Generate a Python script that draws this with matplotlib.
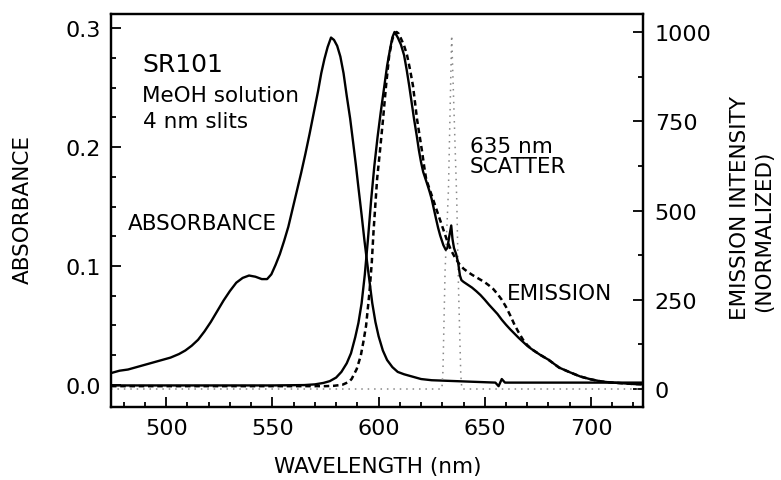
import matplotlib
matplotlib.use("Agg")
import matplotlib.pyplot as plt
from matplotlib.ticker import MultipleLocator

plt.rcParams['font.family'] = ['DejaVu Sans']

# Absorbance spectrum (left axis)
abs_wl = [474, 478, 482, 486, 490, 494, 498, 502, 506, 509, 512, 515, 518, 521, 524,
          527, 530, 533, 536, 539, 542, 545, 547.5, 549.5, 551.5, 553.5, 555.5, 557.5,
          559.5, 561.5, 563.5, 565.5, 567.5, 569.5, 571.5, 573, 574.5, 576, 577.6, 579,
          580.5, 582, 583.5, 585, 586.6, 588, 589.3, 590.5, 592, 593.3, 594.6, 595.8,
          597, 598.5, 600, 602, 604, 606.5, 609, 612, 616, 620, 625, 640, 655, 656.5,
          658, 659.5, 700, 725]
abs_val = [0.010, 0.012, 0.013, 0.015, 0.017, 0.019, 0.021, 0.023, 0.026, 0.029,
           0.033, 0.038, 0.045, 0.053, 0.062, 0.071, 0.079, 0.086, 0.090, 0.092,
           0.091, 0.089, 0.089, 0.093, 0.101, 0.110, 0.121, 0.133, 0.148, 0.163,
           0.178, 0.194, 0.211, 0.229, 0.247, 0.262, 0.274, 0.284, 0.292, 0.290,
           0.285, 0.276, 0.262, 0.243, 0.224, 0.204, 0.185, 0.166, 0.143, 0.122,
           0.103, 0.086, 0.069, 0.053, 0.041, 0.029, 0.021, 0.015, 0.011, 0.009,
           0.007, 0.005, 0.004, 0.003, 0.002, -0.001, 0.005, 0.002, 0.002, 0.002]

# Emission spectrum with 635 nm scatter (solid, right axis)
em_wl = [474, 500, 550, 565, 570, 574, 577, 580, 582.5, 585, 587, 589, 590.5, 592,
         593.5, 595, 596.5, 598, 599.5, 601, 602.5, 604, 605.5, 606.5, 607.5, 609,
         610.5, 612, 613.2, 614.4, 615.5, 616.7, 618, 619, 620, 621, 622, 623, 624,
         625, 626, 627, 628, 629, 630.5, 631.6, 632.4, 633.2, 634.2, 634.8, 635.5,
         636.5, 637.5, 638.3, 639, 640, 642, 644, 646, 648, 650, 652, 654, 656, 658,
         660, 662, 664, 666, 668, 670, 672, 676, 680, 685, 690, 695, 700, 705, 710,
         715, 720, 725]
em_val = [10, 10, 10, 11, 13, 17, 22, 32, 48, 72, 100, 145, 185, 240,
          320, 420, 530, 625, 705, 775, 840, 905, 955, 985, 1000, 985,
          965, 935, 895, 850, 805, 756, 708, 668, 635, 608, 590, 572, 553,
          532, 505, 478, 452, 430, 403, 390, 395, 425, 458, 420, 395,
          378, 352, 318, 305, 300, 292, 284, 274, 263, 250, 236, 223, 210, 194,
          180, 167, 155, 143, 132, 121, 112, 96, 82, 60, 47, 35, 27, 21, 18,
          16, 14, 13]

# Emission spectrum without scatter (dashed, right axis)
em2_wl = [474, 560, 575, 579, 583, 586, 587.3, 589.7, 591.6, 592.8, 594.1, 594.9,
          595.7, 596.8, 597.6, 599.3, 600.7, 602.1, 603.5, 605, 606.5, 607.5, 608.5,
          609.5, 610.5, 612, 613.4, 614.8, 616.2, 617.2, 618.1, 619.3, 620.5, 621.5,
          622.4, 624, 626, 628, 630, 632, 634, 636, 638, 640, 642, 644, 646, 648, 650,
          652, 654, 656, 658, 660, 662, 664, 666, 668, 670, 672, 676, 680, 685, 690,
          695, 700, 705, 710, 715, 720, 725]
em2_val = [8, 8, 8, 9, 12, 20, 28, 56, 93, 131, 177, 224,
           271, 355, 440, 588, 670, 756, 849, 935, 980, 995, 1000,
           995, 982, 962, 935, 895, 849, 800, 756, 710, 664, 622,
           588, 560, 525, 490, 455, 420, 390, 368, 350, 337, 328, 320, 313, 306, 299,
           290, 280, 266, 250, 230, 206, 180, 158, 138, 123, 112, 96, 82, 60, 47,
           35, 27, 21, 18, 16, 14, 13]

# 635 nm excitation scatter (dotted, right axis)
sc_wl = [474, 629.8, 630.3, 631.3, 632.9, 634.4, 636.8, 637.6, 638.7, 639.2, 725]
sc_val = [0, 0, 50, 330, 560, 990, 530, 290, 40, 0, 0]

fig = plt.figure(figsize=(7.81, 4.81), dpi=100)
ax = fig.add_axes([111 / 781, 1 - 408 / 481, 532 / 781, 393 / 481])
ax2 = ax.twinx()

ax.plot(abs_wl, abs_val, color='black', lw=1.7, solid_joinstyle='round')
ax2.plot(sc_wl, sc_val, color='#888888', lw=1.1, linestyle=(0, (1, 3.2)))
ax2.plot(em2_wl, em2_val, color='black', lw=1.8, linestyle=(0, (2.2, 1.5)))
ax2.plot(em_wl, em_val, color='black', lw=1.7, solid_joinstyle='round')

ax.set_xlim(474, 724.5)
ax.set_ylim(-0.0185, 0.3118)
ax2.set_ylim(-50.4, 1050.4)

ax.xaxis.set_major_locator(MultipleLocator(50))
ax.xaxis.set_minor_locator(MultipleLocator(10))
ax.yaxis.set_major_locator(MultipleLocator(0.1))
ax.yaxis.set_minor_locator(MultipleLocator(0.025))
ax2.yaxis.set_major_locator(MultipleLocator(250))
ax2.yaxis.set_minor_locator(MultipleLocator(125))
ax.yaxis.set_major_formatter(plt.FuncFormatter(lambda v, p: f"{v:.1f}"))

for a in (ax, ax2):
    for s in a.spines.values():
        s.set_linewidth(1.6)

tick_fs = 16
ax.tick_params(axis='x', which='both', direction='in', top=False, labelsize=tick_fs,
               pad=8, width=1.3)
ax.tick_params(axis='x', which='major', length=7)
ax.tick_params(axis='x', which='minor', length=3.5)
ax.tick_params(axis='y', which='both', direction='in', right=False, labelsize=tick_fs,
               pad=7.5, width=1.3)
ax.tick_params(axis='y', which='major', length=7)
ax.tick_params(axis='y', which='minor', length=3.5)
ax2.tick_params(axis='y', which='both', direction='in', labelsize=tick_fs, pad=8.5,
                width=1.3)
ax2.tick_params(axis='y', which='major', length=7)
ax2.tick_params(axis='y', which='minor', length=3.5)

W, H = 781, 481


def ftext(x, y, s, **kw):
    fig.text(x / W, 1 - y / H, s, **kw)


ftext(378, 467, "WAVELENGTH (nm)", ha='center', va='center', fontsize=15.5)
ftext(23, 210, "ABSORBANCE", ha='center', va='center', rotation=90, fontsize=15.5)
ftext(740, 208, "EMISSION INTENSITY", ha='center', va='center', rotation=90,
      fontsize=15.5)
ftext(764, 231, "(NORMALIZED)", ha='center', va='center', rotation=90, fontsize=15.5)

ftext(142, 71.7, "SR101", ha='left', va='baseline', fontsize=18)
ftext(142, 101.7, "MeOH solution", ha='left', va='baseline', fontsize=15.5)
ftext(143, 128, "4 nm slits", ha='left', va='baseline', fontsize=15.5)
ftext(128, 230, "ABSORBANCE", ha='left', va='baseline', fontsize=15.5)
ftext(470, 153, "635 nm", ha='left', va='baseline', fontsize=15.5)
ftext(470, 173, "SCATTER", ha='left', va='baseline', fontsize=15.5)
ftext(507, 300, "EMISSION", ha='left', va='baseline', fontsize=15.5)

fig.savefig("out.png", dpi=100)
